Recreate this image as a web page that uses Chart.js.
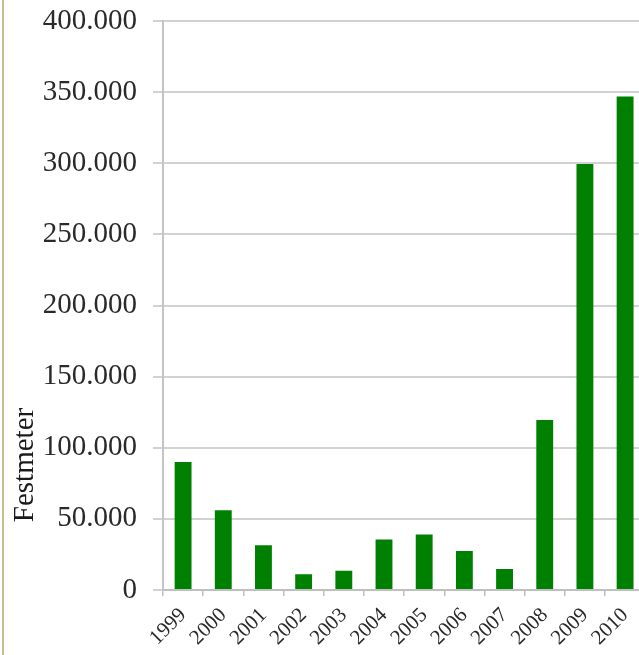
<!DOCTYPE html>
<html>
<head>
<meta charset="utf-8">
<script src="https://cdn.jsdelivr.net/npm/chart.js@4/dist/chart.umd.min.js"></script>
<style>
    body { margin: 0; width: 639px; height: 655px; overflow: hidden; background: #fff; position: relative; }
    #chart { position: absolute; left: 0; top: 0; }
    #edge { position: absolute; left: 2px; top: 0; width: 2px; height: 655px; background: #c6bd97; z-index: 2; }
</style>
</head>
<body>
<div id="edge"></div>
<canvas id="chart" width="650" height="655"></canvas>
<script>
// years on the x axis
const years = ['1999', '2000', '2001', '2002', '2003', '2004', '2005', '2006', '2007', '2008', '2009', '2010'];
// harvested volume per year (Festmeter)
const volumes = [90000, 56000, 31500, 11000, 13600, 35500, 39000, 27500, 14800, 119500, 299500, 347000];
// y axis ticks
const yTicks = [0, 50000, 100000, 150000, 200000, 250000, 300000, 350000, 400000];
const yTitle = 'Festmeter';

const serif = "'Liberation Serif', 'Times New Roman', serif";

// thousands separator with a dot, like the original
const formatNumber = (value) => String(value).replace(/\B(?=(\d{3})+(?!\d))/g, '.');

// draws the y axis title lower down, where the original has it
const yTitlePlugin = {
    id: 'yTitle',
    afterDraw(chart) {
        const ctx = chart.ctx;
        ctx.save();
        ctx.translate(25, 465);
        ctx.rotate(-Math.PI / 2);
        ctx.font = '29px ' + serif;
        ctx.fillStyle = '#1a1a1a';
        ctx.textAlign = 'center';
        ctx.textBaseline = 'middle';
        ctx.fillText(yTitle, 0, 0);
        ctx.restore();
    }
};

const ctx = document.getElementById('chart').getContext('2d');
new Chart(ctx, {
    type: 'bar',
    data: {
        labels: years,
        datasets: [{
            label: yTitle,
            data: volumes,
            backgroundColor: '#008000',
            borderWidth: 0,
            barPercentage: 0.42,
            categoryPercentage: 1
        }]
    },
    options: {
        responsive: false,
        animation: false,
        devicePixelRatio: 1,
        layout: { padding: { top: 21, right: 2, left: 0, bottom: 0 } },
        plugins: {
            legend: { display: false },
            tooltip: { enabled: false }
        },
        scales: {
            x: {
                afterFit: (scale) => { scale.height = 65; },
                grid: {
                    offset: true,
                    drawOnChartArea: false,
                    drawTicks: true,
                    tickLength: 6,
                    color: '#bfbfbf',
                    lineWidth: 1.5
                },
                border: { color: '#bfbfbf', width: 2 },
                ticks: {
                    minRotation: 45,
                    maxRotation: 45,
                    padding: 7,
                    color: '#2a2a2a',
                    font: { family: serif, size: 21 }
                }
            },
            y: {
                min: 0,
                max: 400000,
                // fixed axis width, and no extra room above the top label
                afterFit: (scale) => {
                    scale.width = 163;
                    scale.paddingTop = 0;
                    scale.paddingBottom = 0;
                },
                afterBuildTicks: (scale) => { scale.ticks = yTicks.map(v => ({ value: v })); },
                grid: {
                    color: '#d2d2d2',
                    lineWidth: 2,
                    tickLength: 10
                },
                border: { color: '#c4c4c4', width: 2 },
                ticks: {
                    padding: 16,
                    color: '#2a2a2a',
                    font: { family: serif, size: 29 },
                    callback: (value) => formatNumber(value)
                }
            }
        }
    },
    plugins: [yTitlePlugin]
});
</script>
</body>
</html>
